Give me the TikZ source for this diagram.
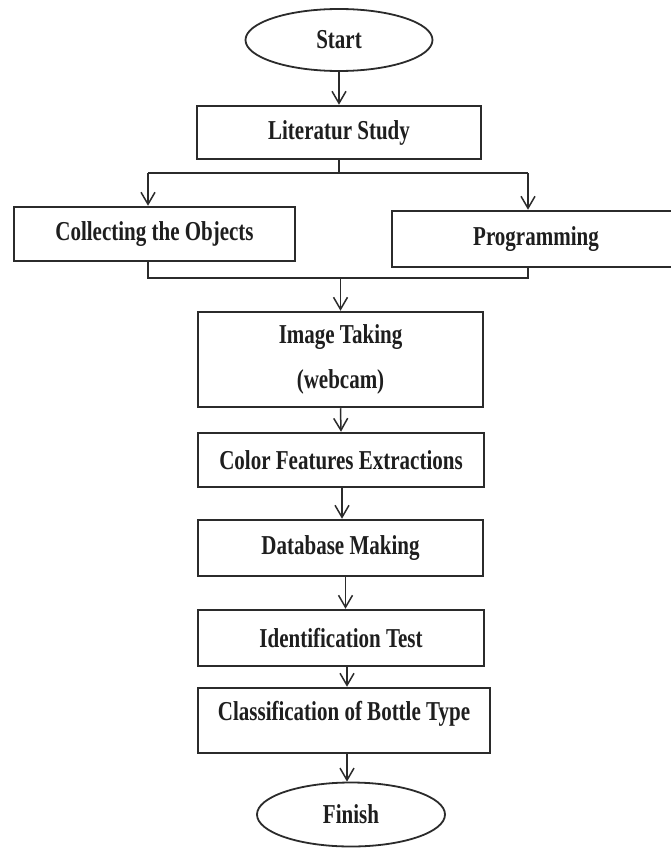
\documentclass[tikz,border=0pt]{standalone}
\usepackage{fontspec}
\setmainfont{Liberation Serif}
\usepackage{graphicx}
\usetikzlibrary{arrows.meta,shapes.geometric}
\definecolor{ln}{HTML}{2B2B2B}
\definecolor{tc}{HTML}{1E1E1E}
\newcommand{\tx}[1]{\scalebox{1}[1.3]{#1}}
\begin{document}
\begin{tikzpicture}[x=1pt,y=-1pt,
  box/.style={draw=ln, line width=2.5pt, rectangle, inner sep=0pt,
    font=\fontsize{21}{25}\selectfont\bfseries, text=tc, align=center},
  oval/.style={draw=ln, line width=1.8pt, ellipse, inner sep=0pt,
    font=\fontsize{21}{25}\selectfont\bfseries, text=tc},
  conn/.style={draw=ln, line width=1.5pt},
  arr/.style={conn, -{Straight Barb[length=12pt,width=14pt,line width=1.5pt]}}]
\useasboundingbox[fill=white] (0,0) rectangle (671,848);
\node[oval, minimum width=187pt, minimum height=62pt] (start) at (339,40) {\tx{Start}};
\node[box, minimum width=284pt, minimum height=53pt] (lit) at (339,132.5) {\tx{Literatur Study}};
\node[box, minimum width=281pt, minimum height=54pt] (col) at (154.5,234) {\tx{Collecting the Objects}};
\node[box, minimum width=288pt, minimum height=56pt] (prog) at (536,239) {\tx{Programming}};
\node[box, minimum width=285pt, minimum height=95pt] (img) at (340.5,359.5) {\tx{Image Taking}\\[20pt]\tx{(webcam)}};
\node[box, minimum width=286pt, minimum height=54pt] (cfe) at (341,460) {\tx{Color Features Extractions}};
\node[box, minimum width=285pt, minimum height=56pt] (db) at (340.5,548) {\tx{Database Making}};
\node[box, minimum width=286pt, minimum height=56pt] (idt) at (341,638) {\tx{Identification Test}};
\node[box, minimum width=292pt, minimum height=65pt, text height=20pt, text depth=20pt] (cls) at (344,720.5) {\tx{Classification of Bottle Type}};
\node[oval, minimum width=188pt, minimum height=64pt] (fin) at (351,814.5) {\tx{Finish}};
\coordinate (bl) at (148,173);
\coordinate (br) at (528,173);
\coordinate (bc) at (339,173);
\coordinate (ml) at (148,278);
\coordinate (mr) at (528,278);
\coordinate (mc) at (340.5,278);
\draw[arr] (start.south) -- (lit.north);
\draw[conn] (lit.south) -- (bc);
\draw[conn] (bl) -- (br);
\draw[arr] (bl) -- (bl |- col.north);
\draw[arr] (br) -- (br |- prog.north);
\draw[conn] (ml |- col.south) -- (ml) -- (mr) -- (mr |- prog.south);
\draw[arr] (mc) -- (img.north);
\draw[arr] (img.south) -- (cfe.north);
\draw[arr] ([xshift=1pt]cfe.south) -- ([xshift=1pt]cfe.south |- db.north);
\draw[arr] ([xshift=5pt]db.south) -- ([xshift=5pt]db.south |- idt.north);
\draw[arr] ([xshift=6pt]idt.south) -- ([xshift=6pt]idt.south |- cls.north);
\draw[arr] ([xshift=3pt]cls.south) -- ([xshift=3pt]cls.south |- fin.north);
\end{tikzpicture}
\end{document}
